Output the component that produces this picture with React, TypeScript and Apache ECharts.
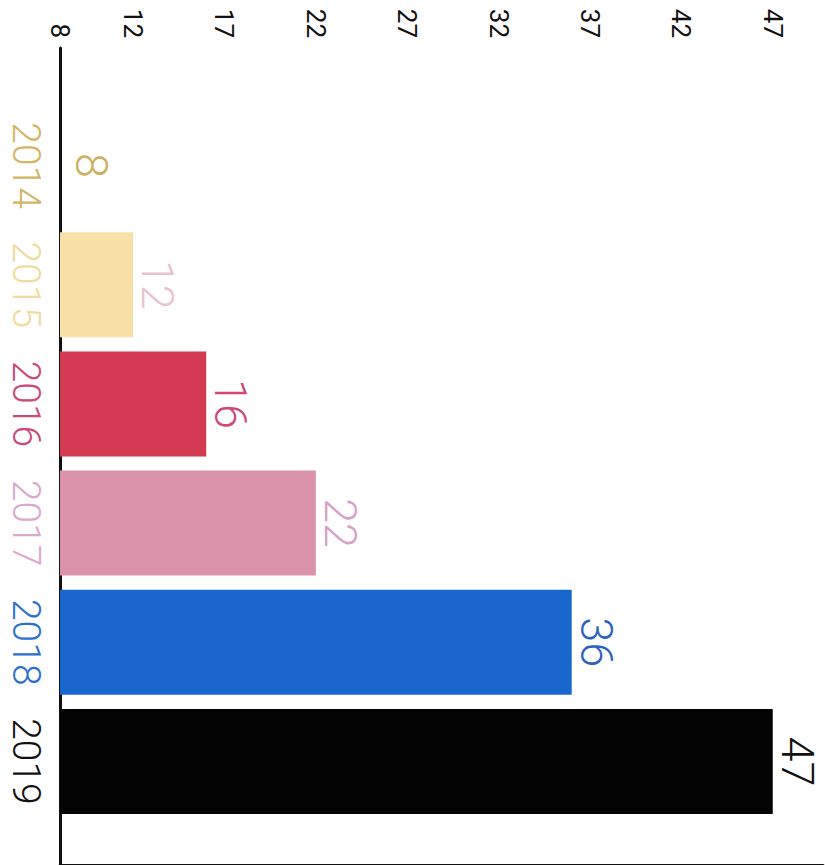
import React, { useEffect, useRef } from "react";
import * as echarts from "echarts";

const years = ["2014", "2015", "2016", "2017", "2018", "2019"];
const values = [8, 12, 16, 22, 36, 47];
const tickValues = [8, 12, 17, 22, 27, 32, 37, 42, 47];
const barColors = ["#d4b565", "#f8e0a8", "#d43b52", "#db93ab", "#1966cc", "#040404"];
const valueLabelColors = ["#cdb062", "#e9c3d2", "#cf4a78", "#d8a2c8", "#2a62c0", "#111111"];
const yearColors = ["#d4b565", "#f1dc9c", "#cc4a78", "#dca8cc", "#2a70cc", "#111111"];

const AXIS_MIN = 8;
const AXIS_MAX = 49.75;

export default function App() {
  const ref = useRef<HTMLDivElement>(null);
  useEffect(() => {
    if (!ref.current) return;
    const chart = echarts.init(ref.current, undefined, { renderer: "svg" });
    const font = "Roboto, 'Noto Sans', sans-serif";
    chart.setOption({
      animation: false,
      backgroundColor: "#ffffff",
      grid: [
        { left: 60, right: 2, top: 48, bottom: 0, outerBoundsMode: "none" },
        { left: 60, right: 2, top: 106, bottom: 44, outerBoundsMode: "none" },
      ],
      xAxis: [
        {
          gridIndex: 0,
          type: "value",
          position: "top",
          min: AXIS_MIN,
          max: AXIS_MAX,
          axisLine: { show: true, lineStyle: { color: "#111", width: 3 } },
          axisTick: {
            show: true,
            inside: true,
            length: 14,
            customValues: tickValues,
            lineStyle: { color: "#111", width: 3 },
          },
          axisLabel: {
            show: true,
            customValues: tickValues,
            rotate: -90,
            margin: 10,
            fontFamily: font,
            fontSize: 26,
            color: "#111",
          },
          splitLine: { show: false },
        },
        {
          gridIndex: 1,
          type: "value",
          min: AXIS_MIN,
          max: AXIS_MAX,
          show: false,
          splitLine: { show: false },
        },
      ],
      yAxis: [
        {
          gridIndex: 0,
          type: "value",
          min: 0,
          max: 1,
          axisLine: { show: true, lineStyle: { color: "#111", width: 3 } },
          axisTick: { show: false },
          axisLabel: { show: false },
          splitLine: { show: false },
        },
        {
          gridIndex: 1,
          type: "category",
          inverse: true,
          data: years,
          axisLine: { show: false },
          axisTick: { show: false },
          axisLabel: {
            interval: 0,
            rotate: -90,
            margin: 15,
            fontFamily: font,
            fontWeight: 300,
            fontSize: 39,
            lineHeight: 39,
            color: (v: string) => yearColors[years.indexOf(String(v))] || "#111",
          },
          splitLine: { show: false },
        },
      ],
      series: [
        {
          type: "bar",
          xAxisIndex: 1,
          yAxisIndex: 1,
          barWidth: 105,
          data: values.map((v, i) => ({
            value: v,
            itemStyle: { color: barColors[i] },
            label: { color: valueLabelColors[i], distance: i === 0 ? 14 : 7 },
          })),
          label: {
            show: true,
            position: "right",
            rotate: -90,
            align: "center",
            verticalAlign: "bottom",
            distance: 7,
            fontFamily: font,
            fontWeight: 300,
            fontSize: 45,
            lineHeight: 35,
          },
        },
      ],
    });
    return () => chart.dispose();
  }, []);
  return (
    <div
      ref={ref}
      style={{ position: "fixed", left: 0, top: 0, width: 825, height: 865 }}
    />
  );
}
